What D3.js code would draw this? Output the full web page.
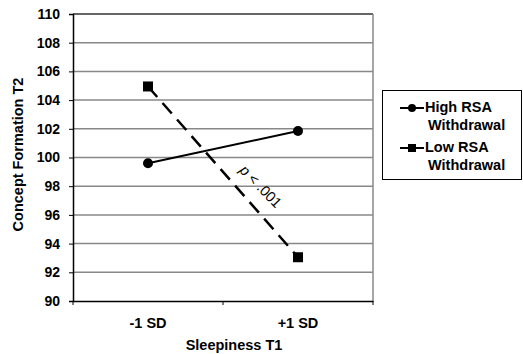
<!DOCTYPE html>
<html>
<head>
<meta charset="utf-8">
<script src="https://cdn.jsdelivr.net/npm/d3@7"></script>
<style>
  body { margin: 0; background: #fff; }
  text { font-family: "Liberation Sans", Arial, sans-serif; }
</style>
</head>
<body>
<div id="container"></div>
<script>
// data
let categories = ["-1 SD", "+1 SD"];
let highRSA = [99.6, 101.85];
let lowRSA = [104.95, 93.05];
let yTicks = [90, 92, 94, 96, 98, 100, 102, 104, 106, 108, 110];
let seriesNames = ["High RSA|Withdrawal", "Low RSA|Withdrawal"];

let svg = d3.select('#container')
            .append('svg')
            .attr("width", 523)
            .attr("height", 354);

let plotLeft = 73, plotRight = 373, plotTop = 14, plotBottom = 301;
let font = '"Liberation Sans", Arial, sans-serif';

let x = d3.scaleBand().domain(categories).range([plotLeft, plotRight]);
let y = d3.scaleLinear().domain([90, 110]).range([plotBottom, plotTop]);

// gridlines
svg.selectAll('line.grid')
    .data(yTicks.slice(1))
    .enter()
    .append('line')
    .attr('x1', plotLeft).attr('x2', plotRight)
    .attr('y1', d => y(d)).attr('y2', d => y(d))
    .attr('stroke', d => d === 110 ? '#333' : '#888')
    .attr('stroke-width', 1.5);

// right border
svg.append('line')
    .attr('x1', plotRight).attr('x2', plotRight)
    .attr('y1', plotTop).attr('y2', plotBottom)
    .attr('stroke', '#888').attr('stroke-width', 1.5);

// y axis
let yAxis = svg.append('g')
    .attr('transform', `translate(${plotLeft},0)`)
    .call(d3.axisLeft(y).tickValues(yTicks).tickSize(4).tickPadding(9));
yAxis.select('.domain').attr('stroke', '#000').attr('stroke-width', 1.5);
yAxis.selectAll('.tick line').attr('stroke', '#000');
yAxis.selectAll('text')
    .style('font-size', '14px').style('font-weight', 'bold')
    .style('font-family', font).attr('fill', '#000');

// x axis
let xAxis = svg.append('g')
    .attr('transform', `translate(0,${plotBottom})`)
    .call(d3.axisBottom(x).tickSize(0).tickPadding(17));
xAxis.select('.domain').attr('stroke', '#000').attr('stroke-width', 1.5);
xAxis.selectAll('text')
    .style('font-size', '14.5px').style('font-weight', 'bold')
    .style('font-family', font).attr('fill', '#000');
// x tick marks at band edges
svg.selectAll('line.xtick')
    .data([plotLeft, plotLeft + x.bandwidth(), plotRight])
    .enter()
    .append('line')
    .attr('x1', d => d).attr('x2', d => d)
    .attr('y1', plotBottom).attr('y2', plotBottom + 4)
    .attr('stroke', '#000');

let cx = d => x(d) + x.bandwidth() / 2;

// low RSA dashed line
let line = d3.line().x((d, i) => cx(categories[i])).y(d => y(d));
svg.append('path')
    .datum(lowRSA)
    .attr('d', line)
    .attr('fill', 'none')
    .attr('stroke', '#000')
    .attr('stroke-width', 2.5)
    .attr('stroke-dasharray', '14,8');

svg.selectAll('rect.low')
    .data(lowRSA)
    .enter()
    .append('rect')
    .attr('x', (d, i) => cx(categories[i]) - 5)
    .attr('y', d => y(d) - 5)
    .attr('width', 10).attr('height', 10)
    .attr('fill', '#000');

// high RSA solid line
svg.append('path')
    .datum(highRSA)
    .attr('d', line)
    .attr('fill', 'none')
    .attr('stroke', '#000')
    .attr('stroke-width', 2);

svg.selectAll('circle.high')
    .data(highRSA)
    .enter()
    .append('circle')
    .attr('cx', (d, i) => cx(categories[i]))
    .attr('cy', d => y(d))
    .attr('r', 5)
    .attr('fill', '#000');

// p annotation along the dashed line
let ang = Math.atan2(y(lowRSA[1]) - y(lowRSA[0]), cx(categories[1]) - cx(categories[0])) * 180 / Math.PI - 3;
let pText = svg.append('text')
    .attr('transform', `translate(260,187) rotate(${ang})`)
    .attr('text-anchor', 'middle')
    .attr('dominant-baseline', 'middle')
    .style('font-size', '14.5px')
    .attr('fill', '#000');
pText.append('tspan').attr('font-style', 'italic').text('p');
pText.append('tspan').text(' < .001');

// axis titles
svg.append('text')
    .attr('transform', `translate(23,${(plotTop + plotBottom) / 2 - 3}) rotate(-90)`)
    .attr('text-anchor', 'middle')
    .style('font-size', '14.5px').style('font-weight', 'bold')
    .text('Concept Formation T2');

svg.append('text')
    .attr('x', 234).attr('y', 350)
    .attr('text-anchor', 'middle')
    .style('font-size', '14.5px').style('font-weight', 'bold')
    .text('Sleepiness T1');

// legend
let legend = svg.append('g');
legend.append('rect')
    .attr('x', 382.5).attr('y', 90.5)
    .attr('width', 139).attr('height', 89)
    .attr('fill', '#fff').attr('stroke', '#000').attr('stroke-width', 1);

let legY = [108, 148];
seriesNames.forEach((name, i) => {
    let g = legend.append('g').attr('transform', `translate(0,${legY[i]})`);
    g.append('line')
        .attr('x1', 400).attr('x2', 424)
        .attr('stroke', '#000').attr('stroke-width', 2);
    if (i === 0) {
        g.append('circle').attr('cx', 412).attr('r', 4).attr('fill', '#000');
    } else {
        g.append('rect').attr('x', 408).attr('y', -4).attr('width', 8).attr('height', 8).attr('fill', '#000');
    }
    let parts = name.split('|');
    let t = g.append('text')
        .attr('x', 425).attr('y', 4)
        .style('font-size', '14.5px').style('font-weight', 'bold');
    t.append('tspan').attr('x', 425).text(parts[0]);
    t.append('tspan').attr('x', 428).attr('dy', 18).text(parts[1]);
});
</script>
</body>
</html>
